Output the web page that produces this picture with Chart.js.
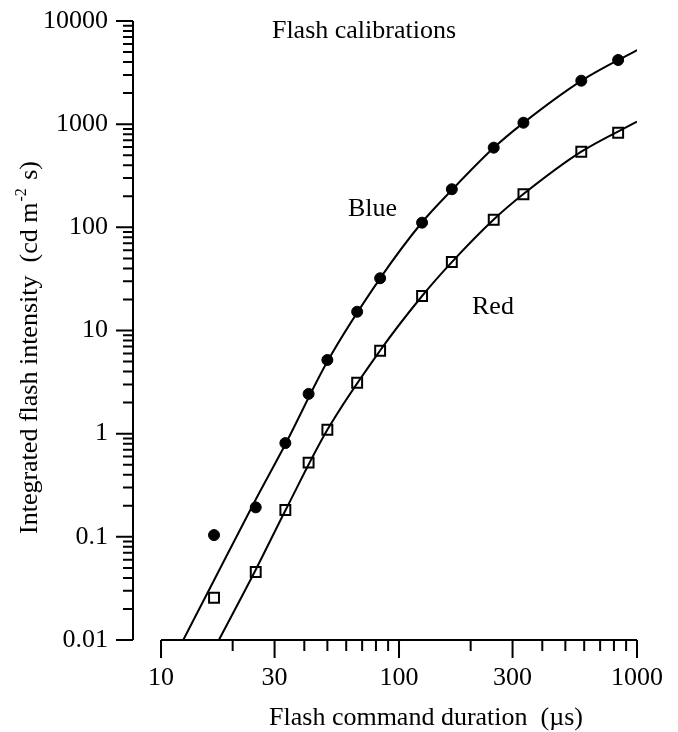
<!DOCTYPE html>
<html>
<head>
<meta charset="utf-8">
<script src="https://cdn.jsdelivr.net/npm/chart.js@4.4.1/dist/chart.umd.min.js"></script>
<style>
  html, body { margin: 0; padding: 0; background: #fff; }
  canvas { display: block; }
</style>
</head>
<body>
<canvas id="flashChart" width="678" height="732"></canvas>
<script>
// measured calibration points (flash command duration in us, intensity in cd m-2 s)
const durations = [16.7, 25, 33.3, 41.7, 50, 66.7, 83.3, 125, 166.7, 250, 333.3, 583.3, 833.3];
const blueValues = [0.104, 0.193, 0.81, 2.43, 5.18, 15.2, 32.1, 111, 234, 592, 1033, 2638, 4188];
const redValues = [0.0257, 0.0456, 0.182, 0.524, 1.09, 3.12, 6.37, 21.6, 46.1, 118.6, 209.5, 541, 826];

// fitted curves
const blueFitX = [12.4, 16.7, 25, 33.3, 50, 83.3, 125, 166.7, 250, 333.3, 583.3, 1000];
const blueFitY = [0.01, 0.038, 0.23, 0.79, 5.0, 32, 112, 230, 590, 1030, 2630, 5230];
const redFitX = [17.5, 25, 33.3, 50, 83.3, 125, 166.7, 250, 333.3, 583.3, 1000];
const redFitY = [0.01, 0.048, 0.18, 1.09, 6.4, 21.6, 46, 119, 210, 541, 1057];

const xTickValues = [10, 30, 100, 300, 1000];
const xTickLabels = ['10', '30', '100', '300', '1000'];
const yTickValues = [0.01, 0.1, 1, 10, 100, 1000, 10000];
const yTickLabels = ['0.01', '0.1', '1', '10', '100', '1000', '10000'];

const FONT = "'Liberation Serif', 'Times New Roman', serif";

function pairs(xs, ys) {
    return xs.map((x, i) => ({ x: x, y: ys[i] }));
}

// axes, ticks and texts drawn by hand so the y axis can sit left of the x axis start
const axesPlugin = {
    id: 'paperAxes',
    afterDraw(chart) {
        const c = chart.ctx;
        const xs = chart.scales.x;
        const ys = chart.scales.y;
        const x0 = xs.getPixelForValue(10);
        const x1 = xs.getPixelForValue(1000);
        const yb = ys.getPixelForValue(0.01);
        const yt = ys.getPixelForValue(10000);
        const ax = chart.chartArea.left;

        c.save();
        c.strokeStyle = '#000';
        c.fillStyle = '#000';
        c.lineWidth = 2;
        c.lineCap = 'butt';

        // axis lines
        c.beginPath();
        c.moveTo(ax, yt); c.lineTo(ax, yb);
        c.moveTo(x0, yb); c.lineTo(x1, yb);
        c.stroke();

        // x ticks
        c.beginPath();
        for (let dec = 10; dec < 1000; dec *= 10) {
            for (let m = 1; m <= 9; m++) {
                const px = xs.getPixelForValue(m * dec);
                const len = (m === 1 || m === 3) ? 18 : 11;
                c.moveTo(px, yb); c.lineTo(px, yb + len);
            }
        }
        c.moveTo(x1, yb); c.lineTo(x1, yb + 18);
        c.stroke();

        // y ticks
        c.beginPath();
        for (let dec = 0.01; dec < 9999; dec *= 10) {
            for (let m = 1; m <= 9; m++) {
                const py = ys.getPixelForValue(m * dec);
                const len = m === 1 ? 17 : 10;
                c.moveTo(ax, py); c.lineTo(ax - len, py);
            }
        }
        const pTop = ys.getPixelForValue(10000);
        c.moveTo(ax, pTop); c.lineTo(ax - 17, pTop);
        c.stroke();

        c.font = '26px ' + FONT;
        c.textBaseline = 'middle';
        c.textAlign = 'center';
        xTickValues.forEach((v, i) => {
            c.fillText(xTickLabels[i], xs.getPixelForValue(v), yb + 38);
        });
        c.textAlign = 'right';
        yTickValues.forEach((v, i) => {
            c.fillText(yTickLabels[i], 108, ys.getPixelForValue(v));
        });

        // titles and labels
        c.textAlign = 'center';
        c.fillText('Flash calibrations', 364, 31);
        c.textAlign = 'left';
        c.fillText('Blue', 348, 209);
        c.fillText('Red', 472, 307);

        c.textBaseline = 'alphabetic';
        c.textAlign = 'center';
        c.fillText('Flash command duration  (\u00b5s)', 426, 725);

        // rotated y title with superscript
        c.translate(37, 348);
        c.rotate(-Math.PI / 2);
        const partA = 'Integrated flash intensity  (cd m';
        const sup = '-2';
        const partB = ' s)';
        c.font = '26px ' + FONT;
        const wA = c.measureText(partA).width;
        const wB = c.measureText(partB).width;
        c.font = '16px ' + FONT;
        const wS = c.measureText(sup).width + 2;
        const total = wA + wS + wB;
        let cx = -total / 2;
        c.textAlign = 'left';
        c.font = '26px ' + FONT;
        c.fillText(partA, cx, 0);
        cx += wA + 1;
        c.font = '16px ' + FONT;
        c.fillText(sup, cx, -11);
        cx += wS;
        c.font = '26px ' + FONT;
        c.fillText(partB, cx, 0);
        c.restore();
    }
};

new Chart(document.getElementById('flashChart'), {
    type: 'line',
    data: {
        datasets: [
            {
                label: 'Blue',
                data: pairs(durations, blueValues),
                showLine: false,
                pointStyle: 'circle',
                pointRadius: 5.5,
                pointBackgroundColor: '#000',
                pointBorderColor: '#000',
                pointBorderWidth: 1
            },
            {
                label: 'Red',
                data: pairs(durations, redValues),
                showLine: false,
                pointStyle: 'rect',
                pointRadius: 7,
                pointBackgroundColor: 'rgba(0,0,0,0)',
                pointBorderColor: '#000',
                pointBorderWidth: 2
            },
            {
                label: 'Blue fit',
                data: pairs(blueFitX, blueFitY),
                borderColor: '#000',
                borderWidth: 2,
                pointRadius: 0,
                cubicInterpolationMode: 'monotone',
                fill: false
            },
            {
                label: 'Red fit',
                data: pairs(redFitX, redFitY),
                borderColor: '#000',
                borderWidth: 2,
                pointRadius: 0,
                cubicInterpolationMode: 'monotone',
                fill: false
            }
        ]
    },
    options: {
        responsive: false,
        devicePixelRatio: 1,
        animation: false,
        layout: { padding: { left: 133, right: 41, top: 21, bottom: 92 } },
        plugins: { legend: { display: false }, tooltip: { enabled: false } },
        scales: {
            x: { type: 'logarithmic', min: 7.625, max: 1000, display: false },
            y: { type: 'logarithmic', min: 0.01, max: 10000, display: false }
        }
    },
    plugins: [axesPlugin]
});
</script>
</body>
</html>
